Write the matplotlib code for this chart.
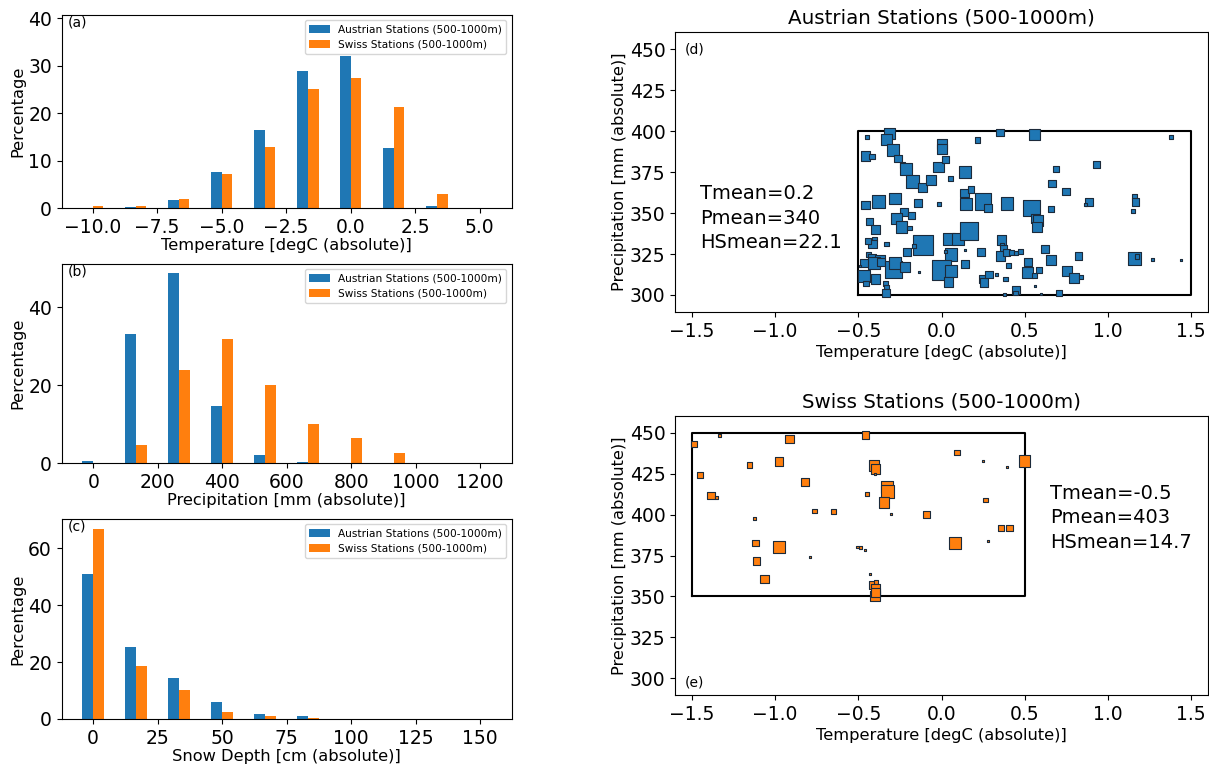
import matplotlib
matplotlib.use("Agg")
import matplotlib.pyplot as plt
import numpy as np

# ---- histogram data (percent of stations per bin) ----
lab_aut = "Austrian Stations (500-1000m)"
lab_sui = "Swiss Stations (500-1000m)"

temp_edges = [-10.83, -9.17, -7.5, -5.83, -4.17, -2.5, -0.83, 0.83, 2.5, 4.17, 5.83]
temp_aut = [0.0, 0.3, 1.7, 7.7, 16.4, 28.9, 32.0, 12.7, 0.5, 0.0]
temp_sui = [0.4, 0.5, 2.0, 7.2, 12.9, 25.1, 27.5, 21.3, 3.1, 0.0]

prec_edges = [-66.7, 66.7, 200.0, 333.3, 466.7, 600.0, 733.3, 866.7, 1000.0, 1133.3, 1266.7]
prec_aut = [0.7, 33.2, 48.7, 14.7, 2.2, 0.3, 0.0, 0.0, 0.0, 0.0]
prec_sui = [0.0, 4.8, 23.9, 31.9, 20.1, 10.1, 6.6, 2.7, 0.0, 0.0]

snow_edges = [-8.33, 8.33, 25.0, 41.67, 58.33, 75.0, 91.67, 108.33, 125.0, 141.67, 158.33]
snow_aut = [51.0, 25.3, 14.5, 5.9, 1.9, 1.0, 0.0, 0.0, 0.0, 0.0]
snow_sui = [67.0, 18.5, 10.3, 2.6, 1.0, 0.5, 0.0, 0.0, 0.0, 0.0]

# ---- station scatter data: temperature, precipitation, snow depth ----
aut_t = [-0.448, -0.312, -0.333, -0.289, -0.457, -0.417, -0.261, -0.235, -0.212, -0.174,
         -0.113, -0.064, -0.018, 0.003, 0.001, 0.022, 0.052, 0.216, 0.349, 0.560,
         1.378, 0.932, 0.688, 0.665, 0.747, 0.887, 0.866, 1.161, 1.165, 1.149,
         0.141, 0.137, 0.179, 0.148, 0.249, 0.279, 0.394, 0.541, 0.565, 0.579,
         0.574, 0.660, -0.015, -0.139, -0.277, -0.380, -0.455, -0.432, -0.396, -0.228,
         -0.181, -0.273, -0.240, -0.193, -0.401, -0.415, -0.441, -0.331, -0.111, -0.165,
         -0.205, 0.045, 0.097, 0.167, 0.139, 0.057, 0.022, 0.237, 0.361, 0.366,
         0.373, 0.354, 0.391, 0.420, 0.448, 0.476, 0.623, 0.522, 0.660, 0.824,
         1.161, 1.175, 1.266, 1.437, -0.438, -0.417, -0.371, -0.406, -0.464, -0.364,
         -0.287, -0.277, -0.219, -0.135, -0.001, 0.055, 0.141, 0.043, 0.401, 0.518,
         0.560, 0.586, 0.756, 0.798, 0.838, -0.467, -0.455, -0.396, -0.492, -0.336,
         -0.329, -0.331, 0.247, 0.256, 0.286, 0.331, 0.385, 0.448, 0.443, 0.380,
         0.560, 0.705, 0.597]
aut_p = [396.7, 398.4, 394.7, 388.4, 384.6, 384.6, 383.5, 379.5, 377.0, 369.5,
         365.7, 370.1, 378.0, 392.3, 389.2, 382.9, 371.3, 394.5, 399.2, 397.8,
         396.5, 379.7, 377.0, 368.1, 363.2, 356.7, 355.3, 360.2, 356.7, 351.2,
         375.0, 362.2, 364.4, 355.7, 357.3, 353.0, 356.1, 353.3, 346.9, 345.5,
         341.3, 352.4, 355.7, 355.9, 358.9, 357.3, 354.9, 344.9, 340.0, 350.6,
         348.4, 346.7, 341.5, 340.9, 334.1, 331.1, 333.1, 330.9, 330.7, 329.9,
         326.2, 334.3, 334.3, 339.2, 327.6, 324.6, 326.4, 326.2, 333.7, 330.3,
         328.0, 323.6, 326.0, 326.0, 325.6, 326.6, 328.3, 320.3, 321.3, 323.8,
         322.4, 323.4, 321.5, 321.3, 324.6, 322.6, 321.5, 319.5, 319.5, 320.3,
         315.7, 319.5, 316.9, 314.2, 315.2, 314.8, 318.9, 307.9, 318.1, 313.8,
         311.9, 315.2, 314.6, 310.2, 311.0, 311.8, 307.1, 309.8, 317.5, 307.1,
         304.9, 301.0, 309.8, 307.7, 312.4, 312.4, 309.8, 302.8, 301.2, 300.0,
         305.7, 301.4, 300.8]
aut_hs = [4, 28, 28, 32, 22, 7, 12, 7, 32, 37,
          17, 24, 24, 24, 24, 12, 5, 7, 14, 28,
          4, 9, 7, 14, 14, 12, 2, 5, 12, 4,
          32, 17, 9, 32, 64, 14, 37, 58, 17, 24,
          24, 9, 4, 14, 32, 37, 17, 9, 21, 14,
          12, 28, 28, 5, 5, 17, 7, 4, 90, 5,
          14, 32, 32, 70, 1, 37, 2, 12, 21, 4,
          14, 21, 9, 5, 5, 7, 14, 14, 24, 12,
          37, 5, 2, 1, 7, 14, 21, 32, 14, 14,
          64, 32, 21, 1, 83, 32, 12, 21, 5, 28,
          7, 7, 21, 24, 4, 32, 7, 21, 1, 7,
          5, 14, 14, 17, 12, 2, 4, 14, 5, 2,
          1, 9, 1]

sui_t = [-1.486, -1.332, -0.915, -0.457, -1.154, -0.976, -1.451, -0.822, -1.388, -1.353,
         -0.406, -0.396, -0.401, 0.092, 0.249, 0.392, 0.499, -0.448, -0.326, -0.326,
         -0.345, 0.263, -0.763, -0.649, -0.305, -0.092, -1.126, 0.359, 0.408, -1.117,
         -0.979, 0.081, 0.282, -0.504, -0.488, -0.462, -0.789, -1.112, -0.431, -1.065,
         -0.413, -0.394, -0.396, -0.399, -0.398]
sui_p = [443.3, 448.4, 446.3, 448.8, 430.3, 432.5, 424.4, 419.9, 411.7, 410.3,
         430.1, 428.0, 425.0, 438.0, 432.7, 429.2, 432.9, 412.5, 417.0, 414.0,
         407.5, 408.9, 402.2, 402.0, 400.5, 399.9, 397.5, 392.0, 392.0, 382.8,
         380.0, 382.4, 383.8, 380.2, 379.6, 378.2, 374.1, 371.4, 363.7, 360.6,
         357.0, 358.6, 354.5, 350.1, 352.5]
sui_hs = [7, 2, 17, 14, 7, 17, 7, 14, 14, 2,
          24, 21, 1, 7, 1, 1, 32, 4, 32, 37,
          24, 5, 4, 5, 1, 12, 2, 7, 9, 9,
          32, 32, 1, 2, 2, 1, 1, 14, 1, 17,
          14, 4, 21, 21, 17]

# selection boxes (temperature range, precipitation range)
box_aut = ([-0.5, 1.5], [300, 400])
box_sui = ([-1.5, 0.5], [350, 450])

txt_aut = "Tmean=0.2\nPmean=340\nHSmean=22.1"
txt_sui = "Tmean=-0.5\nPmean=403\nHSmean=14.7"

blue = "#1f77b4"
orange = "#ff7f0e"
W, H = 1209, 770


def rect(l, t, r, b):
    return [l / W, (H - b) / H, (r - l) / W, (b - t) / H]


fig = plt.figure(figsize=(W / 100, H / 100), dpi=100)

hists = [
    (rect(61.7, 15, 511.7, 208.3), temp_edges, temp_aut, temp_sui,
     "Temperature [degC (absolute)]", "(a)", (-11.2, 6.24)),
    (rect(61.7, 264, 511.7, 463.3), prec_edges, prec_aut, prec_sui,
     "Precipitation [mm (absolute)]", "(b)", (-97.7, 1298)),
    (rect(61.7, 519, 511.7, 719), snow_edges, snow_aut, snow_sui,
     "Snow Depth [cm (absolute)]", "(c)", (-12.2, 162.3)),
]
for pos, edges, va, vs, xl, tag, xlim in hists:
    ax = fig.add_axes(pos)
    e = np.array(edges)
    mids = (e[:-1] + e[1:]) / 2
    ax.hist([mids, mids], bins=e, weights=[va, vs], rwidth=0.5,
            color=[blue, orange], label=[lab_aut, lab_sui])
    ax.set_xlim(xlim)
    ax.set_xlabel(xl, fontsize=11.7, labelpad=1)
    ax.set_ylabel("Percentage", fontsize=11.7, labelpad=2)
    ax.tick_params(labelsize=13.5)
    ax.legend(loc="upper right", fontsize=7.6)
    ax.text(0.013, 0.96, tag, transform=ax.transAxes, ha="left", va="center", fontsize=10)
    if tag == "(a)":
        ax.set_ylim(0, 40.7)
        ax.set_yticks([0, 10, 20, 30, 40])

scat = [
    (rect(675.3, 32.3, 1207.7, 312), aut_t, aut_p, aut_hs, blue, box_aut,
     "Austrian Stations (500-1000m)", txt_aut, (-1.45, 347), "(d)", 0.94),
    (rect(675.3, 416, 1207.7, 695), sui_t, sui_p, sui_hs, orange, box_sui,
     "Swiss Stations (500-1000m)", txt_sui, (0.655, 398), "(e)", 0.045),
]
for pos, t, p, hs, col, box, title, txt, txy, tag, tagy in scat:
    ax = fig.add_axes(pos)
    bx, by = box
    ax.plot([bx[0], bx[1], bx[1], bx[0], bx[0]], [by[0], by[0], by[1], by[1], by[0]],
            color="k", lw=1.5, zorder=1)
    ax.scatter(t, p, s=np.array(hs) * 2.3, marker="s", color=col,
               edgecolors="#1c2a3a", linewidths=0.8, zorder=2)
    ax.set_xlim(-1.6, 1.6)
    ax.set_ylim(289.6, 460.4)
    ax.set_xticks([-1.5, -1.0, -0.5, 0.0, 0.5, 1.0, 1.5])
    ax.set_yticks([300, 325, 350, 375, 400, 425, 450])
    ax.tick_params(labelsize=13.5)
    ax.set_title(title, fontsize=14.3, pad=6)
    ax.set_xlabel("Temperature [degC (absolute)]", fontsize=11.7, labelpad=3)
    ax.set_ylabel("Precipitation [mm (absolute)]", fontsize=11.7, labelpad=2)
    ax.text(txy[0], txy[1], txt, fontsize=14, va="center", ha="left", linespacing=1.35)
    ax.text(0.017, tagy, tag, transform=ax.transAxes, ha="left", va="center", fontsize=10)

fig.savefig("out.png", dpi=100)
